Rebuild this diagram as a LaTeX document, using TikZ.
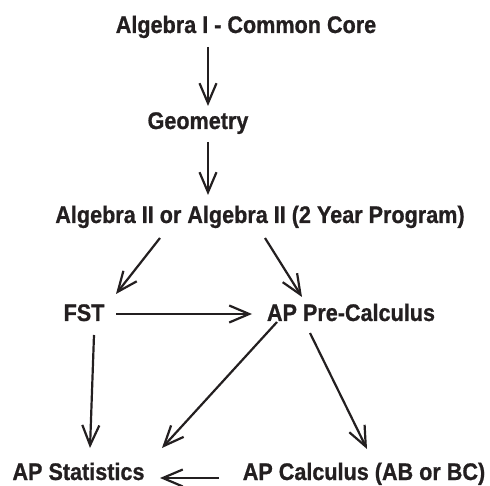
\documentclass[tikz,border=0pt]{standalone}
\usepackage{fontspec}
\setmainfont{Liberation Sans}[FakeStretch=0.9, BoldFeatures={FakeBold=0.8}]
\definecolor{PathInk}{HTML}{231F20}
\usetikzlibrary{arrows.meta, calc}
\tikzset{
   course/.style={inner sep=0pt, anchor=base, text=PathInk,
      font=\fontsize{24}{28}\selectfont\bfseries},
   flow/.style={PathInk, line width=2.2pt,
      -{Straight Barb[length=20pt, width=17pt, line width=2.2pt]}}
}
\begin{document}
\begin{tikzpicture}[x=1pt, y=1pt]
            \useasboundingbox (0,0) rectangle (490,485);
            % Courses
            \node[course] (alg1) at (246,452) {Algebra I - Common Core};
            \node[course] (geo)  at (198,356) {Geometry};
            \node[course] (alg2) at (260,262) {Algebra II or Algebra II (2 Year Program)};
            \node[course] (fst)  at (84,164)  {FST};
            \node[course] (pre)  at (351,164) {AP Pre-Calculus};
            \node[course] (stat) at (78.5,5)  {AP Statistics};
            \node[course] (calc) at (364,5)   {AP Calculus (AB or BC)};
            % Sequence
            \draw[flow] ($(alg1.base)+(-38,-14)$) -- ($(geo.base)+(10,23)$);
            \draw[flow] ($(geo.base)+(10,-13)$) -- ($(alg2.base)+(-52,28)$);
            \draw[flow] ($(alg2.base)+(-100,-15)$) -- ($(fst.base)+(32,27)$);
            \draw[flow] ($(alg2.base)+(5,-15)$) -- ($(pre.base)+(-49,24)$);
            \draw[flow] ($(fst.base)+(32,7)$) -- ($(pre.base)+(-99,7)$);
            \draw[flow] ($(fst.base)+(10,-14)$) -- ($(stat.base)+(11.5,32)$);
            \draw[flow] ($(pre.base)+(-74,-1)$) -- ($(stat.base)+(83.5,32)$);
            \draw[flow] ($(pre.base)+(-41,-12)$) -- ($(calc.base)+(3,31)$);
            \draw[flow] ($(calc.base)+(-145,2)$) -- ($(stat.base)+(81.5,2)$);
         \end{tikzpicture}
\end{document}
